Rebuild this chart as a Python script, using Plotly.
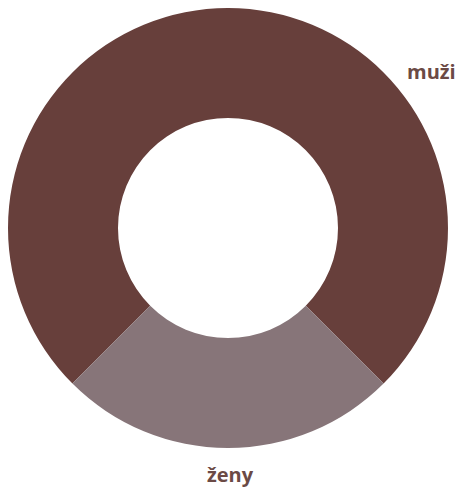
import plotly.graph_objects as go

labels = ["muži", "ženy"]
values = [75, 25]
colors = ["#673f3b", "#877579"]

fig = go.Figure(go.Pie(
    labels=labels,
    values=values,
    hole=0.5,
    sort=False,
    direction="clockwise",
    rotation=225,
    marker=dict(colors=colors, line=dict(width=0)),
    textinfo="none",
    hoverinfo="label+value",
    showlegend=False,
))

label_font = dict(family="Open Sans", size=20, color="#6b4a45")
fig.add_annotation(text="<b>muži</b>", x=0.962, y=0.855, xref="paper", yref="paper",
                   xanchor="center", yanchor="middle",
                   showarrow=False, font=label_font)
fig.add_annotation(text="<b>ženy</b>", x=0.505, y=-0.061, xref="paper", yref="paper",
                   xanchor="center", yanchor="middle",
                   showarrow=False, font=label_font)

fig.update_layout(
    width=459, height=487,
    margin=dict(l=8, r=11, t=8, b=39),
    paper_bgcolor="white",
    plot_bgcolor="white",
)
fig.write_html(
    "out.html",
    config={"displayModeBar": False},
    post_script="document.body.style.margin='0';document.body.style.overflow='hidden';",
)
